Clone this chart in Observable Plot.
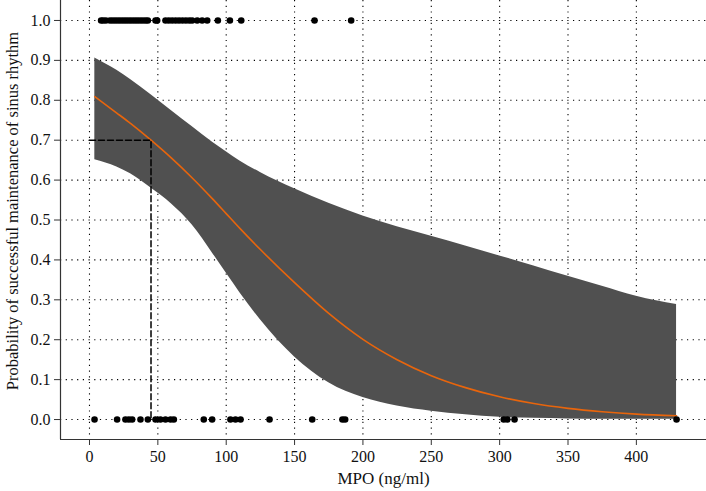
<!DOCTYPE html>
<html>
<head>
<meta charset="utf-8">
<script src="https://cdn.jsdelivr.net/npm/d3@7"></script>
<script src="https://cdn.jsdelivr.net/npm/@observablehq/plot@0.6"></script>
<style>
  html, body { margin: 0; padding: 0; background: #fff; }
  #chart svg { display: block; }
</style>
</head>
<body>
<div id="chart"></div>
<script>
// ---- data ----
const xTicks = [0, 50, 100, 150, 200, 250, 300, 350, 400];
const yTicks = [0, 0.1, 0.2, 0.3, 0.4, 0.5, 0.6, 0.7, 0.8, 0.9, 1.0];

const curveX     = [3.9, 20, 30, 45, 60, 75, 90, 100, 110, 125, 150, 175, 200, 225, 250, 275, 300, 325, 350, 375, 400, 429.4];
const curveFit   = [0.809, 0.768, 0.742, 0.700, 0.655, 0.606, 0.553, 0.516, 0.479, 0.426, 0.343, 0.266, 0.201, 0.150, 0.110, 0.080, 0.057, 0.040, 0.028, 0.0195, 0.0135, 0.0095];
const curveLower = [0.651, 0.633, 0.616, 0.580, 0.540, 0.488, 0.417, 0.367, 0.318, 0.250, 0.157, 0.092, 0.055, 0.034, 0.021, 0.012, 0.0055, 0.003, 0.0015, 0.001, 0.0007, 0.0005];
const curveUpper = [0.906, 0.875, 0.852, 0.814, 0.774, 0.734, 0.695, 0.671, 0.648, 0.619, 0.578, 0.542, 0.510, 0.483, 0.459, 0.435, 0.410, 0.385, 0.359, 0.334, 0.309, 0.288];

const successX = [8.5, 10, 12, 15, 17, 19, 21, 23, 25, 27, 29, 31, 33, 35, 37, 39, 41, 42.7, 48.3, 49.5, 55.6, 58, 60.5, 63, 65.5, 68, 70.5, 73, 75.1, 78.8, 82.4, 86.1, 93.9, 102.7, 111, 164.6, 191.4];
const failureX = [3.7, 20.2, 26.3, 28.8, 31.2, 37.3, 42.7, 48.3, 51.9, 55.6, 59.3, 61.7, 83.6, 89.7, 103.1, 106.8, 110.5, 131.7, 162.9, 185, 187, 303, 305.6, 310.9, 429.4];

const cutoffX = 45;
const cutoffP = 0.7;

const xLabel = "MPO (ng/ml)";
const yLabel = "Probability of successful maintenance of sinus rhythm";

// ---- tables built from the arrays ----
const curve = curveX.map((x, i) => ({x, fit: curveFit[i], lo: curveLower[i], hi: curveUpper[i]}));
const points = [
  ...successX.map(x => ({x, y: 1})),
  ...failureX.map(x => ({x, y: 0}))
];
const cutoff = [{x: 0, y: cutoffP}, {x: cutoffX, y: cutoffP}, {x: cutoffX, y: 0}];

const xDomain = [-21.2, 451.3];
const yDomain = [-0.05, 1.05];
const font = "'Liberation Serif', 'DejaVu Serif', serif";

const chart = Plot.plot({
  width: 706,
  height: 491,
  marginLeft: 60,
  marginRight: 0,
  marginTop: 0,
  marginBottom: 52,
  style: {fontFamily: font, fontSize: "16px", background: "#fff", color: "#111"},
  x: {domain: xDomain, type: "linear"},
  y: {domain: yDomain, type: "linear"},
  marks: [
    // dotted grid
    Plot.ruleX(xTicks, {stroke: "#000", strokeWidth: 1.1, strokeDasharray: "1.2,4.5"}),
    Plot.ruleY(yTicks, {stroke: "#000", strokeWidth: 1.1, strokeDasharray: "1.2,4.5"}),
    // confidence band
    Plot.areaY(curve, {x: "x", y1: "lo", y2: "hi", fill: "#505050", curve: "monotone-x"}),
    // fitted curve
    Plot.line(curve, {x: "x", y: "fit", stroke: "#e8650c", strokeWidth: 1.6, curve: "monotone-x"}),
    // cutoff dashed line
    Plot.line(cutoff, {x: "x", y: "y", stroke: "#000", strokeWidth: 1.5, strokeDasharray: "6,3"}),
    // observed outcomes
    Plot.dot(points, {x: "x", y: "y", r: 3.3, fill: "#000", stroke: "none"}),
    // axis lines (L-shaped box)
    Plot.ruleX([xDomain[0]], {stroke: "#333", strokeWidth: 1.2}),
    Plot.ruleY([yDomain[0]], {stroke: "#333", strokeWidth: 1.2}),
    // axes
    Plot.axisX(xTicks, {tickSize: 6, tickPadding: 5, stroke: "#333", label: null, fontSize: 16}),
    Plot.axisY(yTicks, {tickSize: 6, tickPadding: 4, stroke: "#333", label: null, fontSize: 16, tickFormat: d3.format(".1f")}),
    // axis titles
    Plot.text([xLabel], {frameAnchor: "bottom", dy: 39, textAnchor: "middle", lineAnchor: "middle", fontSize: 17, fill: "#111"}),
    Plot.text([yLabel], {frameAnchor: "left", dx: -48, dy: -9, rotate: -90, textAnchor: "middle", lineAnchor: "middle", fontSize: 16.5, fill: "#111"})
  ]
});
document.getElementById("chart").appendChild(chart);
</script>
</body>
</html>
